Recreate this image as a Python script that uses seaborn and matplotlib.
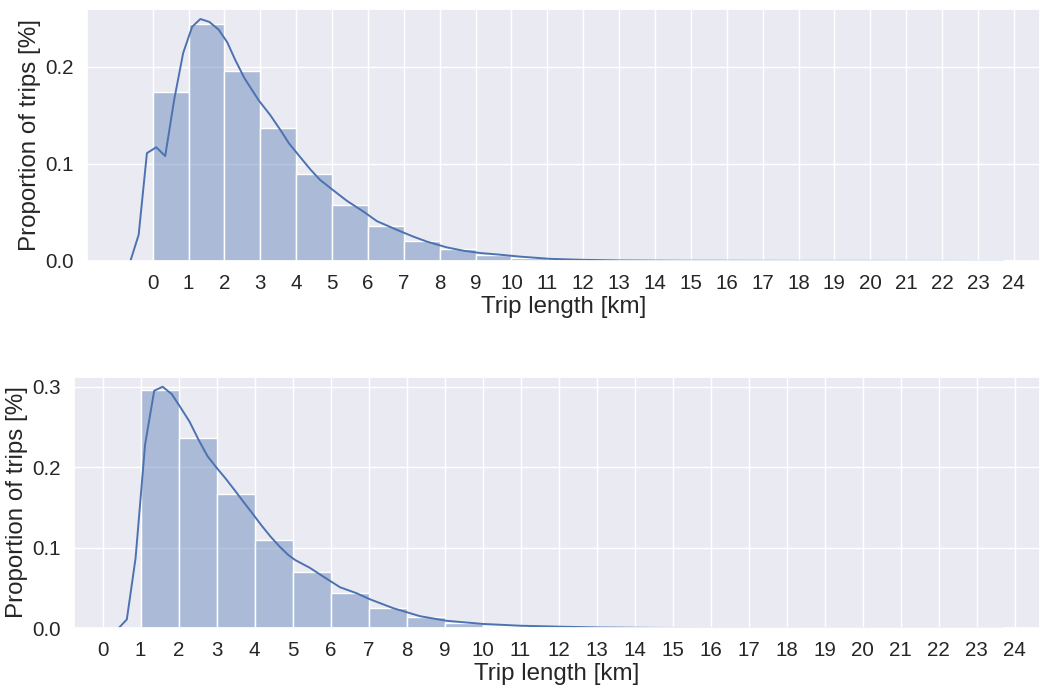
import numpy as np
import pandas as pd
import matplotlib
matplotlib.use("Agg")
import matplotlib.pyplot as plt
import seaborn as sns

# ---------------- data ----------------
x_ticks = list(range(25))

# top panel: histogram (bins of 1 km starting at 0)
top_bin_edges = list(range(0, 25))
top_heights = [0.1735, 0.2438, 0.195, 0.137, 0.090, 0.0576, 0.0363, 0.021,
               0.012, 0.0058, 0.003, 0.002, 0.0013, 0.0009, 0.0006, 0.0005,
               0.0004, 0.0003, 0.0002, 0.0002, 0.0001, 0.0001, 0.0001, 0.0001]
# top panel: density curve
top_kde_x = [-0.62, -0.39, -0.16, 0.10, 0.35, 0.60, 0.85, 1.10, 1.33, 1.58,
             1.84, 2.08, 2.30, 2.56, 2.95, 3.28, 3.56, 3.80, 4.11, 4.40,
             4.67, 5.14, 5.41, 5.88, 6.25, 6.81, 7.27, 7.64, 8.20, 8.66,
             9.13, 9.68, 10.24, 11.08, 12.0, 13.0, 14.5, 16.0, 18.0, 20.0,
             22.0, 23.7]
top_kde_y = [0.0, 0.027, 0.111, 0.117, 0.108, 0.166, 0.214, 0.241, 0.249, 0.246,
             0.238, 0.225, 0.207, 0.188, 0.1656, 0.150, 0.1348, 0.121, 0.107, 0.094,
             0.0833, 0.0697, 0.062, 0.0507, 0.041, 0.032, 0.025, 0.020, 0.014, 0.0106,
             0.0082, 0.0065, 0.0045, 0.0022, 0.0012, 0.0006, 0.0003, 0.0002, 0.0001, 0.0001,
             0.00005, 0.0]

# bottom panel: histogram (bins of 1 km starting at 1)
bot_bin_edges = list(range(1, 25))
bot_heights = [0.296, 0.236, 0.167, 0.1100, 0.0703, 0.0435, 0.0248, 0.0137,
               0.0062, 0.0032, 0.002, 0.0012, 0.0008, 0.0005, 0.0004, 0.0003,
               0.0002, 0.0002, 0.0001, 0.0001, 0.0001, 0.0001, 0.0001]
# bottom panel: density curve
bot_kde_x = [0.42, 0.64, 0.87, 1.12, 1.36, 1.58, 1.82, 2.05, 2.29, 2.53,
             2.76, 3.00, 3.23, 3.47, 3.71, 3.94, 4.18, 4.42, 4.65, 4.89,
             5.07, 5.46, 5.85, 6.25, 6.69, 7.04, 7.65, 8.36, 9.06, 10.02,
             10.99, 12.04, 13.1, 14.5, 16.0, 18.0, 20.0, 22.0, 23.7]
bot_kde_y = [0.0, 0.011, 0.087, 0.228, 0.295, 0.300, 0.291, 0.2745, 0.2567, 0.234,
             0.214, 0.1995, 0.1866, 0.172, 0.157, 0.143, 0.128, 0.114, 0.102, 0.091,
             0.0848, 0.075, 0.063, 0.051, 0.0435, 0.036, 0.025, 0.0150, 0.0093, 0.0054,
             0.0032, 0.0020, 0.0010, 0.0005, 0.0003, 0.0002, 0.0001, 0.00005, 0.0]

top_yticks = [0.0, 0.1, 0.2]
bot_yticks = [0.0, 0.1, 0.2, 0.3]
xlabel = "Trip length [km]"
ylabel = "Proportion of trips [%]"

# ---------------- style ----------------
sns.set_theme(style="darkgrid")
plt.rcParams["font.family"] = ["Liberation Sans", "DejaVu Sans"]
C0 = "#4c72b0"
TICK_FS = 14.8
LABEL_FS = 17.4

fig = plt.figure(figsize=(10.4, 6.88), dpi=100)
ax1 = fig.add_axes([87 / 1040, (688 - 261) / 688, 953 / 1040, 252 / 688])
ax2 = fig.add_axes([74 / 1040, (688 - 628.3) / 688, 966 / 1040, 251.7 / 688])


def draw(ax, edges, heights, kx, ky, xlim, ylim, yticks):
    centers = [e + 0.5 for e in edges[:-1]]
    sns.histplot(x=centers, weights=heights, bins=edges, stat="count",
                 color=C0, alpha=0.4, edgecolor="white", linewidth=1.0, ax=ax)
    sns.lineplot(x=kx, y=ky, color=C0, linewidth=1.4, sort=False,
                 estimator=None, ax=ax)
    ax.set_xticks(x_ticks)
    ax.set_xticklabels([str(t) for t in x_ticks])
    ax.set_yticks(yticks)
    ax.set_yticklabels([f"{t:.1f}" for t in yticks])
    ax.set_xlim(*xlim)
    ax.set_ylim(*ylim)
    ax.tick_params(labelsize=TICK_FS, colors=".15")
    ax.set_xlabel(xlabel, fontsize=LABEL_FS, color=".15", labelpad=2)
    ax.set_ylabel(ylabel, fontsize=LABEL_FS, color=".15", labelpad=3)


draw(ax1, top_bin_edges, top_heights, top_kde_x, top_kde_y,
     (-1.83, 24.73), (0, 0.2593), top_yticks)
draw(ax2, bot_bin_edges, bot_heights, bot_kde_x, bot_kde_y,
     (-0.75, 24.67), (0, 0.3126), bot_yticks)

fig.savefig("out.png", dpi=100)
